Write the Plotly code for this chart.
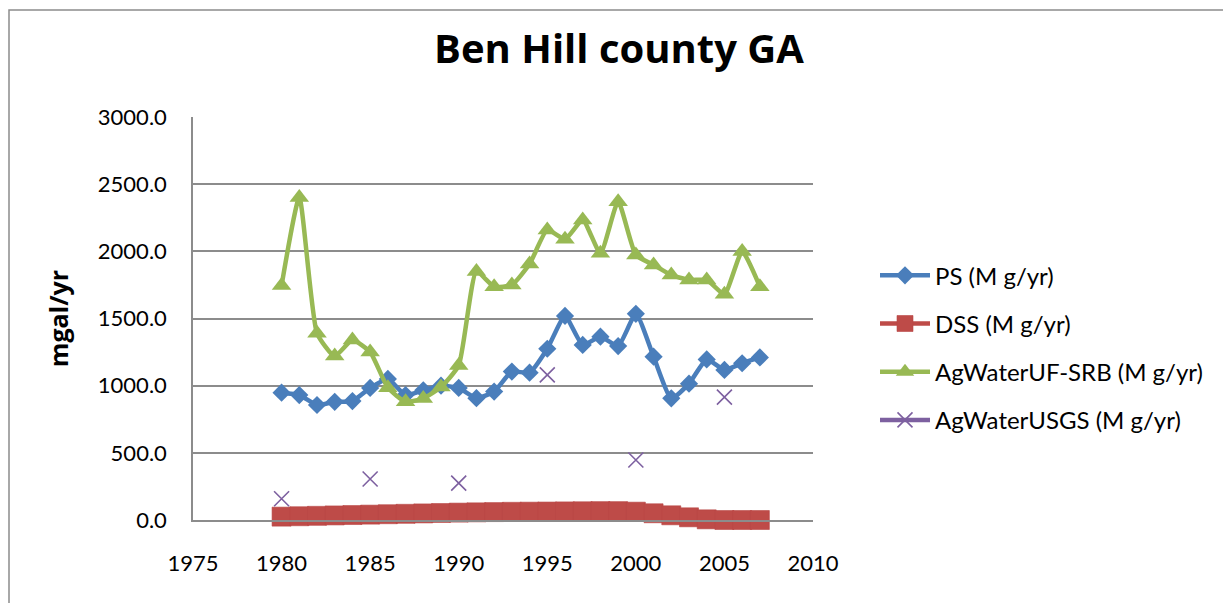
import plotly.graph_objects as go

# data
years = list(range(1980, 2008))
ps = [948, 930, 856, 880, 885, 983, 1050, 930, 965, 1000, 983, 907, 956, 1105, 1097,
      1275, 1519, 1303, 1365, 1295, 1535, 1216, 906, 1015, 1195, 1117, 1167, 1210]
dss = [25, 28, 31, 34, 37, 40, 43, 46, 49, 52, 55, 57, 59, 61, 62,
       63, 64, 65, 66, 66, 62, 50, 35, 20, 5, 0, 0, 0]
ag_ufsrb = [1745, 2400, 1390, 1220, 1340, 1250, 985, 880, 905, 990, 1150, 1849, 1737, 1750, 1905,
            2159, 2090, 2234, 1985, 2370, 1973, 1899, 1824, 1787, 1787, 1680, 1998, 1737]
usgs_years = [1980, 1985, 1990, 1995, 2000, 2005]
usgs_vals = [158, 305, 275, 1080, 447, 915]

# USGS only has values every 5 years, gaps elsewhere
usgs = [usgs_vals[usgs_years.index(y)] if y in usgs_years else None for y in years]

FONT = "Lato"
FONT2 = "Open Sans"
GRID = "#8c8c8c"

# page body adds 8px offset, so plot area is placed with that in mind
OFF = 8
L, T, R, B = 193, 117, 813, 520   # plot area in screen pixels
PW, PH = R - L, B - T

traces = [
    go.Scatter(x=years, y=ps, name="PS (M g/yr)", mode="lines+markers", cliponaxis=False,
               line=dict(color="#4a7ebb", width=4.5, shape="spline", smoothing=0.5),
               marker=dict(symbol="diamond", size=14, color="#4a7ebb"),
               legendgroup="a"),
    go.Scatter(x=years, y=dss, name="DSS (M g/yr)", mode="lines+markers", cliponaxis=False,
               line=dict(color="#be4b48", width=4.5, shape="spline", smoothing=0.5),
               marker=dict(symbol="square", size=19, color="#be4b48",
                           line=dict(color="#b84744", width=0.6)),
               legendgroup="b"),
    go.Scatter(x=years, y=ag_ufsrb, name="AgWaterUF-SRB (M g/yr)", mode="lines+markers",
               cliponaxis=False,
               line=dict(color="#98b954", width=4.5, shape="spline", smoothing=0.5),
               marker=dict(symbol="triangle-up", size=17, color="#98b954"),
               legendgroup="c"),
    go.Scatter(x=years, y=usgs, name="AgWaterUSGS (M g/yr)", mode="lines+markers",
               connectgaps=False, cliponaxis=False,
               line=dict(color="#7d60a0", width=4.5),
               marker=dict(symbol="x-thin", size=15, color="#7d60a0",
                           line=dict(color="#7d60a0", width=1.6)),
               legendgroup="d"),
]

layout = dict(
    width=1231, height=603,
    paper_bgcolor="white", plot_bgcolor="white",
    margin=dict(l=L - OFF, r=1231 + OFF - R, t=T - OFF, b=603 + OFF - B),
    font=dict(family=FONT, size=22, color="black"),
    title=dict(text="<b>Ben Hill county GA</b>", x=(619 - OFF) / 1231, xanchor="center",
               y=1 - (49 - OFF) / 603, yanchor="middle",
               font=dict(family=FONT2, size=40, color="black")),
    xaxis=dict(range=[1975, 2010], tickvals=list(range(1975, 2011, 5)),
               showgrid=False, zeroline=False, showline=True, linecolor=GRID,
               linewidth=1.5, ticks="", ticklabelstandoff=23,
               tickfont=dict(family=FONT, size=22)),
    yaxis=dict(range=[0, 3000], tickvals=list(range(0, 3001, 500)),
               tickformat=".1f", showgrid=True, gridcolor=GRID, gridwidth=1.5,
               zeroline=False, showline=True, linecolor=GRID, linewidth=1.5,
               ticks="", ticklabelstandoff=20,
               tickfont=dict(family=FONT, size=22),
               title=dict(text="<b>mgal/yr</b>", standoff=22,
                          font=dict(family=FONT2, size=25))),
    legend=dict(x=1.1, xanchor="left", y=0.662, yanchor="top",
                font=dict(family=FONT, size=24), tracegroupgap=14,
                itemwidth=50, bgcolor="rgba(0,0,0,0)"),
    shapes=[
        # chart area border (only the left and top edges fall inside the picture)
        dict(type="rect", xref="paper", yref="paper",
             x0=(9 - L) / PW, x1=(1260 - L) / PW,
             y0=(B - 10) / PH, y1=(B - 640) / PH,
             line=dict(color=GRID, width=1.5), fillcolor="rgba(0,0,0,0)",
             layer="below"),
    ],
)

fig = go.Figure(data=traces, layout=layout)
fig.write_html("out.html")
